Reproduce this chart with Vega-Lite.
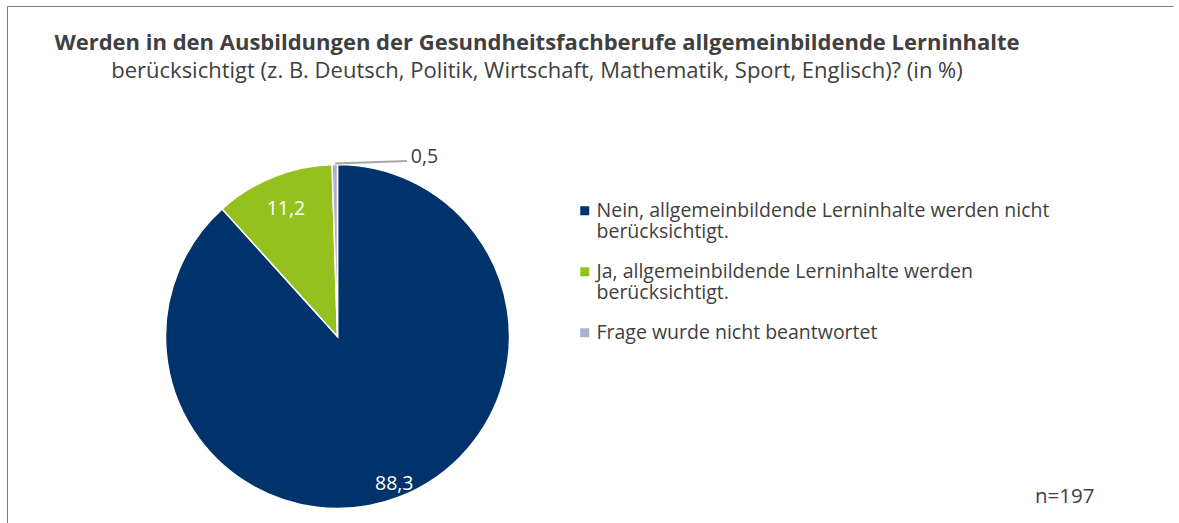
{
  "$schema": "https://vega.github.io/schema/vega-lite/v6.json",
  "width": 1172,
  "height": 517,
  "autosize": {"type": "none"},
  "padding": {"left": 7, "top": 6, "right": 0, "bottom": 0},
  "background": "white",
  "view": {"stroke": "#7f7f7f", "strokeWidth": 1, "fill": "white", "strokeDash": [1166, 1695, 517]},
  "config": {
    "font": "Open Sans"
  },
  "title": {
    "text": "Werden in den Ausbildungen der Gesundheitsfachberufe allgemeinbildende Lerninhalte",
    "subtitle": "berücksichtigt (z. B. Deutsch, Politik, Wirtschaft, Mathematik, Sport, Englisch)? (in %)",
    "anchor": "middle",
    "dx": -56,
    "offset": -77,
    "font": "Open Sans",
    "subtitleFont": "Open Sans",
    "fontSize": 22,
    "subtitleFontSize": 22,
    "fontWeight": "bold",
    "subtitleFontWeight": "normal",
    "color": "#404040",
    "subtitleColor": "#404040",
    "subtitlePadding": 6
  },
  "data": {
    "values": [
      {"antwort": "Nein, allgemeinbildende Lerninhalte werden nicht berücksichtigt.", "anteil": 88.3, "label": "88,3", "ord": 1},
      {"antwort": "Ja, allgemeinbildende Lerninhalte werden berücksichtigt.", "anteil": 11.2, "label": "11,2", "ord": 2},
      {"antwort": "Frage wurde nicht beantwortet", "anteil": 0.5, "label": "0,5", "ord": 3}
    ]
  },
  "layer": [
    {
      "mark": {"type": "arc", "outerRadius": 172, "x": 330.5, "y": 330.5, "stroke": "white", "strokeWidth": 1.5},
      "encoding": {
        "theta": {"field": "anteil", "type": "quantitative", "stack": true},
        "order": {"field": "ord", "type": "quantitative"},
        "color": {
          "field": "antwort",
          "type": "nominal",
          "scale": {
            "domain": [
              "Nein, allgemeinbildende Lerninhalte werden nicht berücksichtigt.",
              "Ja, allgemeinbildende Lerninhalte werden berücksichtigt.",
              "Frage wurde nicht beantwortet"
            ],
            "range": ["#00336B", "#95C11F", "#A9B1CF"]
          },
          "legend": {
            "title": null,
            "orient": "none",
            "legendX": 568,
            "legendY": 195,
            "symbolType": "square",
            "symbolSize": 81,
            "symbolStrokeWidth": 0,
            "labelFont": "Open Sans",
            "labelFontSize": 19.5,
            "labelColor": "#404040",
            "labelOffset": 2,
            "labelLimit": 700,
            "rowPadding": 19,
            "labelExpr": "split(replace(datum.label, ' berücksichtigt.', '|berücksichtigt.'), '|')",
            "encode": {"labels": {"update": {"lineHeight": {"value": 24}}}}
          }
        }
      }
    },
    {
      "mark": {"type": "text", "radius": 158, "x": 330.5, "y": 330.5, "fontSize": 19.5, "color": "white", "font": "Open Sans"},
      "encoding": {
        "theta": {"field": "anteil", "type": "quantitative", "stack": true},
        "order": {"field": "ord", "type": "quantitative"},
        "text": {"condition": {"test": "datum.ord == 1", "field": "label"}, "value": ""}
      }
    },
    {
      "mark": {"type": "text", "radius": 138, "x": 330.5, "y": 330.5, "fontSize": 19.5, "color": "white", "font": "Open Sans"},
      "encoding": {
        "theta": {"field": "anteil", "type": "quantitative", "stack": true},
        "order": {"field": "ord", "type": "quantitative"},
        "text": {"condition": {"test": "datum.ord == 2", "field": "label"}, "value": ""}
      }
    },
    {
      "mark": {"type": "text", "radius": 172, "x": 330.5, "y": 330.5, "dx": 76, "dy": -1.5, "align": "left", "baseline": "alphabetic", "fontSize": 19.5, "color": "#404040", "font": "Open Sans"},
      "encoding": {
        "theta": {"field": "anteil", "type": "quantitative", "stack": true},
        "order": {"field": "ord", "type": "quantitative"},
        "text": {"condition": {"test": "datum.ord == 3", "field": "label"}, "value": ""}
      }
    },
    {
      "data": {"values": [{"linie": "0,5"}]},
      "mark": {"type": "rule", "color": "#A6A6A6", "strokeWidth": 2},
      "encoding": {
        "x": {"value": 328},
        "y": {"value": 157.5},
        "x2": {"value": 400},
        "y2": {"value": 155}
      }
    },
    {
      "data": {"values": [{"n": "n=197"}]},
      "mark": {"type": "text", "x": 1028, "y": 497, "align": "left", "baseline": "alphabetic", "fontSize": 20.5, "color": "#404040", "font": "Open Sans"},
      "encoding": {"text": {"field": "n", "type": "nominal"}}
    }
  ]
}
